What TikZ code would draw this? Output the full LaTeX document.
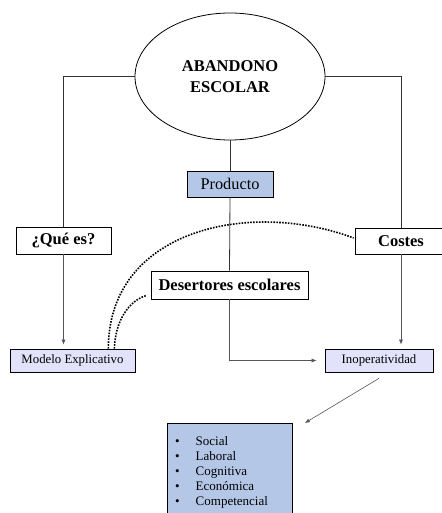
\documentclass[tikz,border=0pt]{standalone}
\usepackage{fontspec}
\setmainfont{Liberation Serif}
\usetikzlibrary{shapes.geometric,arrows.meta,calc}
\definecolor{boxblue}{HTML}{B4C7E7}
\definecolor{boxlav}{HTML}{E2E2FA}
\definecolor{linegray}{HTML}{555555}
\begin{document}
\begin{tikzpicture}[x=1pt,y=-1pt,
  frame/.style={draw=black,line width=0.8pt},
  titlebox/.style={frame,inner sep=0pt,minimum height=26,
    font=\fontsize{16.5}{18}\selectfont\bfseries},
  plainbox/.style={frame,inner sep=0pt,fill=boxblue,
    font=\fontsize{16.3}{18}\selectfont},
  smallbox/.style={draw=black,line width=0.7pt,inner sep=0pt,fill=boxlav,
    minimum height=23,font=\fontsize{12.8}{14}\selectfont},
  link/.style={line width=0.8pt,draw=black!80},
  arrowlink/.style={line width=0.6pt,draw=linegray,
    -{Latex[length=5pt,width=4pt]}},
  dots/.style={line width=1.6pt,dash pattern=on 1.6pt off 1.3pt}]
\useasboundingbox (0,0) rectangle (441,513);

% central ellipse
\node[frame,ellipse,minimum width=190,minimum height=127,inner sep=0pt,
  align=center,font=\fontsize{16.5}{20.5}\selectfont\bfseries]
  (abandono) at (230,76.5) {ABANDONO\\ESCOLAR};

% boxes
\node[plainbox,minimum width=86,minimum height=26] (prod) at (230,184) {Producto};
\node[titlebox,minimum width=95,minimum height=27] (que) at (63.5,240.5) {¿Qué es?};
\node[titlebox,minimum width=92] (costes) at (401,241) {Costes};
\node[titlebox,minimum width=157,minimum height=28] (des) at (229.5,285) {Desertores escolares};
\node[smallbox,minimum width=125] (modelo) at (72.5,360.5) {Modelo Explicativo};
\node[smallbox,minimum width=108] (inop) at (379,360.5) {Inoperatividad};

% list box
\node[draw=black,line width=0.8pt,fill=boxblue,anchor=north west,
  minimum width=125,minimum height=100,inner sep=0pt] (list) at (167,423) {};
\node[anchor=north west,inner sep=0pt,font=\fontsize{13}{15}\selectfont]
  (items) at ($(list.north west)+(8,12)$) {%
  \begin{tabular}{@{}l@{\hspace{16pt}}l@{}}
  \textbullet & Social\\
  \textbullet & Laboral\\
  \textbullet & Cognitiva\\
  \textbullet & Económica\\
  \textbullet & Competencial
  \end{tabular}};

% frame lines from the ellipse
\draw[link] (abandono.west) -| (que.north);
\draw[link] (abandono.east) -| (costes.north);
\draw[link] (abandono.south) -- (prod.north);
\draw[link] (prod.south) -- (des.north);
\draw[arrowlink,shorten >=8pt] (des.south) |- (inop.west);

% arrows to the lower boxes
\draw[arrowlink,shorten >=4pt] (que.south) -- (que.south |- modelo.north);
\draw[arrowlink,shorten >=4pt] (costes.south) -- (costes.south |- inop.north);
\draw[arrowlink] ($(inop.south)+(0,6)$) -- ($(list.north east)+(12,0)$);

% dotted relations
\draw[dots] ($(modelo.north east)+(-27,0)$)
  .. controls +(0,-119) and +(-104,-39) .. ($(costes.west)+(-1,-3)$);
\draw[dots] ($(modelo.north east)+(-21,0)$)
  .. controls +(1,-29) and +(-17,5) .. ($(des.south west)+(-4,-4)$);
\end{tikzpicture}
\end{document}
